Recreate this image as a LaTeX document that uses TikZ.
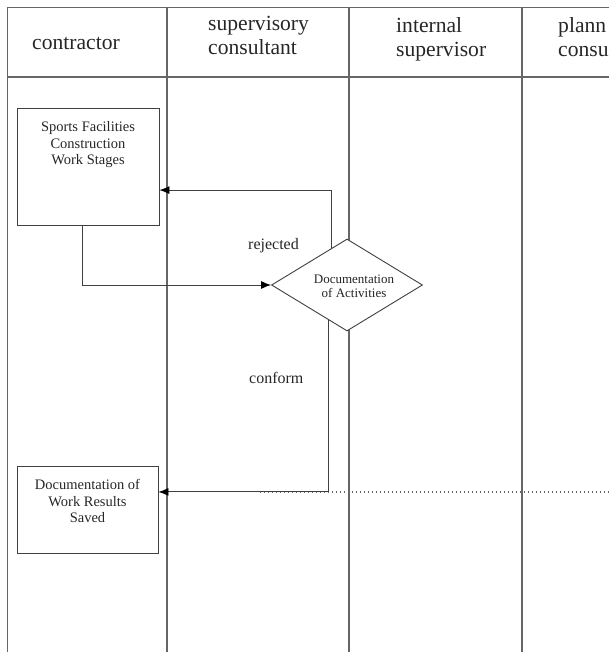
\documentclass[tikz,border=0pt]{standalone}
\usepackage{fontspec}
\setmainfont{Liberation Serif}
\usetikzlibrary{positioning, shapes.geometric, arrows.meta, calc}

\tikzset{
    lane/.style = {draw=black!60, line width=1.2pt},
    stagebox/.style = {draw=black!75, line width=0.9pt, rectangle, inner sep=0pt},
    decision/.style = {draw=black!75, fill=white, line width=0.9pt, diamond, inner sep=0pt},
    flow/.style = {draw=black!75, line width=0.9pt, -{Latex[length=10pt,width=8pt,fill=black,color=black]}},
    dotflow/.style = {draw=black!60, line width=1.3pt, dash pattern=on 1.3pt off 2.7pt},
    lanehead/.style = {font=\fontsize{21.6}{24}\selectfont, align=left, inner sep=0pt, text=black!85},
    boxtext/.style = {font=\fontsize{14.5}{16.5}\selectfont, align=center, inner sep=0pt, text=black!85},
    labeltext/.style = {font=\fontsize{16}{18}\selectfont, inner sep=0pt, text=black!85},
}

\begin{document}
\begin{tikzpicture}[x=1pt, y=-1pt]
                \useasboundingbox (0,0) rectangle (609,652);
                \clip (0,0) rectangle (609,652);
                % lanes
                \draw[lane] (7.5,7.5) -- (620,7.5);
                \draw[lane] (7.5,77) -- (620,77);
                \foreach \lx in {7.5,167,349,522}
                    \draw[lane] (\lx,7.5) -- (\lx,660);
                \node[lanehead, anchor=base west] (hcontr) at (32,50) {contractor};
                \node[lanehead, anchor=base west] (hsuper) at (208,55) {supervisory\\consultant};
                \node[lanehead, anchor=base west] (hinter) at (396,57) {internal\\supervisor};
                \node[lanehead, anchor=base west] (hplan) at (558,57) {plann\\consu};
                % steps
                \node[stagebox, minimum width=142pt, minimum height=117pt] (stages) at (88,166.5) {};
                \node[boxtext, below=14pt of stages.north] (stagestext) {Sports Facilities\\Construction\\Work Stages};
                \node[decision, minimum width=151pt, minimum height=92pt] (check) at (347,285) {};
                \node[boxtext, font=\fontsize{13}{14}\selectfont] (checktext) at (354,286) {Documentation\\of Activities};
                \node[stagebox, minimum width=141pt, minimum height=87pt] (saved) at (87.5,509.5) {};
                \node[boxtext, below=14pt of saved.north] (savedtext) {Documentation of\\Work Results\\Saved};
                % connectors
                \coordinate (dotstart) at (260,492);
                \coordinate (dotend) at (612,492);
                \draw[dotflow] (dotstart) -- (dotend);
                \draw[flow] ($(stages.south west)!0.46!(stages.south east)$) |- (check.west);
                \draw[flow] ($(check.west)!0.79!(check.north)$) |- ($(stages.north east)!0.70!(stages.south east)$);
                \draw[flow] ($(check.west)!0.75!(check.south)$) |- ($(saved.north east)!0.30!(saved.south east)$);
                %\draw[flow] (check.east) -- (dotend);
                \node[labeltext, anchor=base west] (rejlabel) at (248,249) {rejected};
                \node[labeltext, anchor=base west] (conlabel) at (249,383) {conform};
\end{tikzpicture}
\end{document}
